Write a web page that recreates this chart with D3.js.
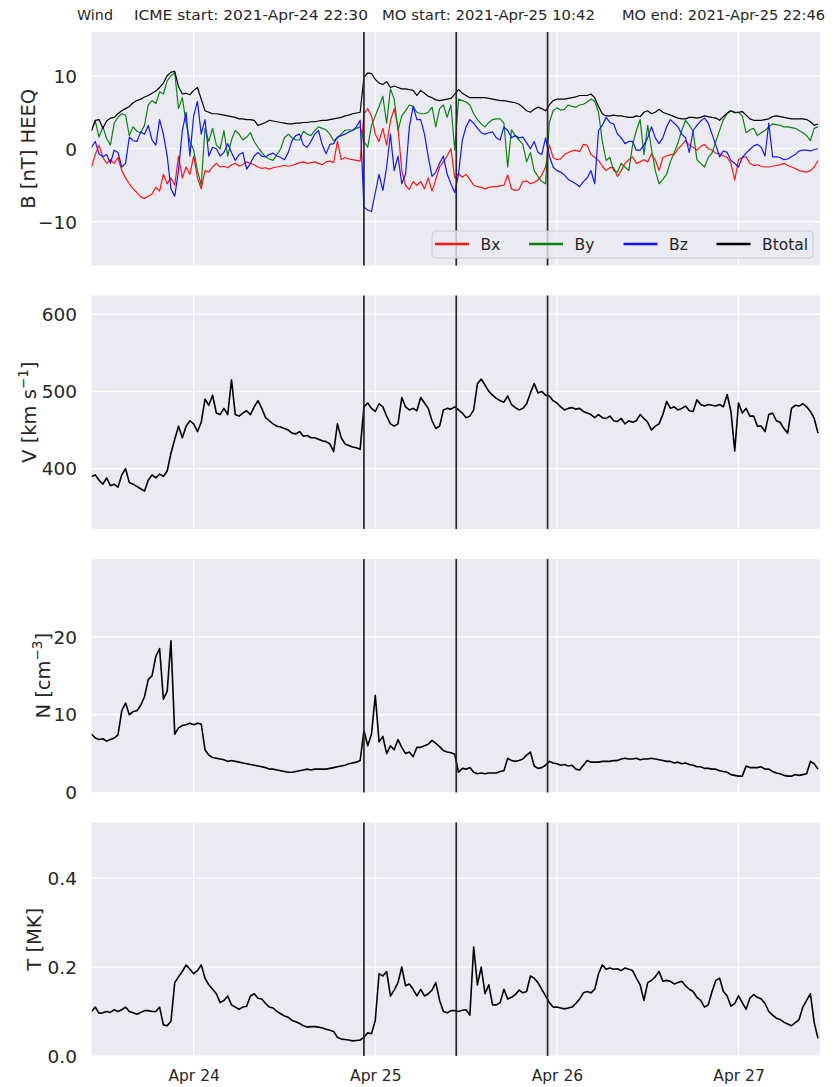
<!DOCTYPE html>
<html><head><meta charset="utf-8">
<script src="https://cdn.jsdelivr.net/npm/d3@7"></script>
<style>
body{margin:0;background:#fff}
svg{display:block}
text{font-family:"DejaVu Sans",sans-serif;fill:#262626}
</style>
</head><body><svg id="c" width="838" height="1087"></svg>
<script>
// ---- data ----
const spacecraft = "Wind";
const startTime = "2021-04-23T10:30:00Z";
const stepMinutes = 30;
const endTime = "2021-04-27T10:46:00Z";
const eventLabels = ["ICME start", "MO start", "MO end"];
const eventTimes = ["2021-04-24T22:30:00Z", "2021-04-25T10:42:00Z", "2021-04-25T22:46:00Z"];
const seriesNames = ["Bx", "By", "Bz", "Btotal"];
const seriesColors = ["#ff1414", "#0f800f", "#1414ff", "#000000"];
const xTickDates = ["2021-04-24", "2021-04-25", "2021-04-26", "2021-04-27"];
const bTicks = [-10, 0, 10];
const vTicks = [400, 500, 600];
const nTicks = [0, 10, 20];
const tTicks = [0.0, 0.2, 0.4];

const Bx = [-2.5,-0.8,0.5,-1.2,-2.0,-1.5,-2.0,-1.2,-3.0,-4.0,
-4.8,-5.5,-6.0,-6.6,-6.8,-6.5,-6.2,-5.3,-5.8,-3.5,
-4.8,-4.0,-5.0,-1.0,-4.0,-2.5,-3.5,-1.0,-4.0,-5.5,
-3.0,-3.2,-2.5,-2.0,-2.5,-2.4,-2.6,-2.2,-2.0,-2.4,
-2.2,-1.8,-2.0,-2.2,-2.5,-2.7,-2.6,-2.8,-2.6,-2.5,
-2.4,-2.3,-2.4,-2.3,-2.1,-1.9,-1.8,-2.0,-1.9,-1.8,
-2.0,-2.2,-1.8,-1.7,-1.9,1.0,-1.5,-1.2,-1.4,-1.5,
-1.6,-1.7,4.8,5.5,4.5,2.0,1.0,2.8,0.5,3.8,
5.5,3.0,-3.0,-5.0,-5.6,-4.5,-5.0,-4.5,-5.5,-4.0,
-5.8,-4.2,-2.5,-1.8,-1.0,0.0,-4.0,-3.4,-3.9,-3.5,
-4.2,-5.0,-5.2,-5.3,-5.5,-5.3,-5.2,-5.2,-5.1,-5.0,
-3.6,-5.5,-5.7,-5.6,-4.5,-4.4,-4.8,-4.6,-4.3,-3.6,
-2.5,0.5,-1.2,-1.5,-1.4,-0.8,-0.5,-0.3,-0.2,-0.4,
0.6,0.5,-0.8,-1.2,-1.6,-2.4,-3.0,-2.6,-2.6,-3.8,
-3.0,-2.0,-1.5,-1.1,-2.0,-1.8,-1.5,-1.8,-0.7,-1.5,
-3.0,-1.2,-1.0,-0.8,-0.8,0.0,0.5,1.1,0.5,0.2,
-0.2,0.3,0.6,0.0,-0.2,-0.6,-0.7,-1.0,-1.2,-2.0,
-4.3,-1.5,-1.2,-1.1,-2.0,-2.3,-2.2,-2.4,-2.5,-2.5,
-2.4,-2.3,-2.2,-2.0,-2.3,-2.5,-2.7,-3.0,-3.1,-3.2,
-3.0,-2.5,-1.6];

const By = [2.5,3.8,1.6,3.0,1.4,0.5,3.5,4.3,4.8,4.6,
1.8,3.0,2.4,2.2,3.2,6.0,6.6,6.2,7.8,7.5,
9.3,10.0,10.4,5.5,7.0,3.5,1.0,-0.2,-3.0,-5.0,
2.8,1.0,2.8,0.5,0.0,2.5,-1.0,1.2,2.5,2.0,
1.2,1.6,2.2,1.0,0.2,-0.5,-1.1,-1.4,-1.6,-0.8,
0.0,1.5,2.0,1.5,1.2,1.2,2.4,2.0,1.8,2.5,
3.0,2.8,2.6,2.0,1.1,1.5,2.0,2.5,2.6,2.5,
2.8,3.0,1.0,0.2,3.2,4.5,5.8,7.2,3.5,8.2,
6.8,2.5,4.5,5.2,6.0,5.8,5.0,4.8,4.8,5.0,
5.7,3.0,5.5,6.0,4.3,6.0,-0.2,6.8,6.6,6.4,
6.0,4.8,4.0,3.4,3.0,3.6,4.0,4.1,4.1,3.5,
-2.5,2.6,1.8,1.2,0.6,-1.8,-0.5,-3.0,-3.8,-4.5,
-4.8,3.6,5.2,5.6,5.3,5.4,6.0,5.8,5.7,6.0,
6.1,6.4,6.8,6.5,5.0,1.0,-1.6,-1.2,-3.0,-3.2,
-2.0,-2.5,-3.0,0.5,2.5,4.0,-0.8,3.2,0.0,-3.0,
-4.8,-4.2,-3.5,-1.8,-0.5,0.8,2.5,3.9,3.2,2.4,
-1.5,-2.0,-2.5,-1.2,-0.6,1.0,2.5,4.0,4.8,5.2,
4.9,5.0,4.5,2.2,2.6,2.8,1.8,2.2,2.5,3.0,
3.4,3.3,3.2,3.0,3.0,2.9,2.8,2.5,2.2,1.8,
1.1,2.8,3.0];

const Bz = [0.2,1.0,-0.7,-1.1,-0.8,-2.0,-0.2,-0.5,-2.5,-2.0,
1.6,1.1,1.0,2.3,2.0,3.2,1.2,0.5,4.0,2.0,
-1.0,-5.5,-6.5,-3.0,2.5,5.0,-1.0,4.5,6.5,2.0,
4.0,-1.0,0.2,0.0,-1.0,-0.5,0.7,-0.5,-1.6,-0.8,
-0.5,-2.8,-2.0,-1.0,-0.5,-1.0,-1.1,-0.8,-0.6,-1.0,
-1.2,-1.5,-0.5,1.1,1.8,2.0,0.5,0.2,1.0,2.0,
2.5,0.5,-0.7,0.6,0.7,1.6,1.8,2.0,2.3,2.5,
3.0,3.9,-8.0,-8.4,-8.6,-6.0,-3.5,-5.7,-2.5,2.0,
-3.0,-1.0,-4.8,-3.5,3.0,5.8,4.0,4.0,2.0,-1.1,
-3.8,-3.2,-2.0,-1.0,-3.5,-4.8,-6.0,-3.5,1.2,3.0,
4.0,3.5,2.8,2.2,2.0,2.2,2.3,1.5,1.2,3.0,
2.5,1.5,1.8,1.5,1.6,0.8,0.0,1.0,-0.5,-0.8,
1.5,-1.0,-2.5,-3.0,-3.2,-3.6,-4.2,-4.5,-4.8,-5.2,
-4.5,-4.0,-3.0,-4.8,2.5,3.2,4.3,3.6,3.4,2.0,
1.5,0.7,1.0,1.0,-0.2,-0.2,0.5,1.5,3.0,1.5,
0.7,1.5,3.0,4.0,3.5,3.0,2.0,1.5,-0.5,2.5,
3.2,3.8,4.2,3.5,2.0,0.5,-1.1,-0.3,-0.5,-1.6,
-2.0,-2.5,-1.2,-0.6,-0.1,0.4,0.6,0.2,-1.0,3.5,
-1.1,-1.1,-1.2,-1.5,-1.4,-1.1,-0.8,-0.3,-0.2,-0.2,
-0.3,-0.1,0.0];

const Bt = [2.5,3.9,4.0,2.8,3.8,4.2,4.3,4.8,5.2,5.5,
5.8,6.3,6.6,6.8,7.1,7.3,7.6,7.9,8.4,9.0,
10.0,10.5,10.6,8.5,7.5,7.6,7.4,8.0,8.4,6.8,
5.2,5.0,4.8,4.8,4.7,4.6,4.5,4.4,4.3,4.1,
4.1,4.0,4.0,3.9,3.2,3.4,3.6,3.9,3.8,3.7,
3.6,3.5,3.4,3.4,3.5,3.5,3.6,3.6,3.7,3.7,
3.8,3.9,3.9,4.0,4.1,4.2,4.3,4.5,4.6,4.8,
4.9,5.0,9.8,10.4,10.3,9.5,9.0,8.8,9.2,8.4,
8.6,8.4,8.2,8.2,8.1,8.0,7.3,8.0,7.6,7.2,
7.0,6.7,6.6,6.7,6.8,6.9,7.5,8.1,7.6,7.3,
7.0,7.0,7.0,7.0,7.0,6.9,6.8,6.7,6.6,6.6,
6.5,6.4,6.3,6.1,5.7,5.2,5.0,5.4,5.7,5.5,
5.2,6.0,6.6,6.8,6.8,6.8,6.9,7.0,7.1,7.3,
7.3,7.3,7.5,7.0,5.8,4.8,4.5,4.5,4.6,4.5,
4.5,4.4,4.3,4.3,4.5,4.4,5.0,5.2,4.8,5.0,
5.4,5.0,4.8,4.6,4.4,4.2,4.1,4.1,4.3,4.3,
4.2,4.3,4.5,4.4,4.3,4.2,3.9,4.4,4.9,5.2,
5.0,5.0,5.1,4.6,4.1,3.9,3.9,3.9,4.0,4.1,
4.4,4.5,4.4,4.3,4.2,4.1,4.1,4.1,4.1,4.0,
3.7,3.2,3.4];

const V = [390,392,385,380,388,378,380,376,392,400,
382,380,377,374,371,385,392,388,393,390,
397,420,438,455,440,455,462,458,448,460,
490,482,495,472,470,478,470,515,470,468,
472,475,470,480,488,478,466,462,458,455,
454,452,450,446,445,448,442,443,440,440,
438,436,435,432,422,458,440,432,430,428,
427,425,480,485,478,474,484,480,468,458,
455,458,492,480,476,478,475,492,485,478,
462,452,455,476,478,477,480,476,472,466,
468,476,510,516,508,500,495,491,488,486,
494,483,479,476,478,484,498,510,498,500,
495,494,488,485,480,476,478,479,477,478,
474,472,470,466,470,466,465,468,462,461,
465,458,462,460,462,470,465,460,450,455,
458,470,487,478,480,476,478,481,475,474,
489,483,481,483,482,481,483,480,496,474,
423,485,472,478,468,468,455,455,448,470,
472,462,460,452,446,478,482,481,484,480,
474,465,446];

const N = [7.5,7.0,6.8,6.9,6.6,6.8,7.0,7.4,10.5,11.5,
10.0,10.4,10.5,11.2,12.3,14.5,15.0,17.5,18.5,12.0,
13.0,19.5,7.5,8.3,8.6,8.7,8.9,8.7,8.9,8.8,
5.5,4.8,4.5,4.4,4.3,4.2,4.0,4.1,4.0,3.9,
3.8,3.7,3.6,3.5,3.4,3.3,3.2,3.0,3.0,2.9,
2.8,2.7,2.6,2.6,2.7,2.8,2.9,3.0,2.9,3.0,
3.0,3.0,3.0,3.1,3.2,3.3,3.4,3.5,3.7,3.8,
3.9,4.1,8.0,6.0,7.5,12.5,6.5,7.2,5.0,6.0,
5.5,6.8,5.8,5.0,5.2,4.6,5.8,5.8,6.0,6.2,
6.7,6.3,5.9,5.4,5.2,5.1,4.9,2.6,3.1,3.0,
3.2,2.6,2.4,2.5,2.4,2.5,2.5,2.5,2.7,2.8,
4.4,4.1,4.0,4.1,4.3,4.8,5.2,3.4,3.1,3.2,
3.5,4.0,3.8,3.7,3.5,3.6,3.4,3.5,3.0,2.9,
3.5,4.1,3.9,3.9,3.9,4.0,4.0,4.0,4.1,4.1,
4.3,4.4,4.3,4.3,4.4,4.2,4.3,4.3,4.4,4.3,
4.2,4.1,4.0,4.0,3.8,3.9,3.7,3.8,3.6,3.5,
3.3,3.3,3.1,3.1,3.0,3.0,2.8,2.7,2.6,2.3,
2.2,2.1,2.1,3.4,3.2,3.2,3.2,3.3,3.0,3.0,
2.7,2.5,2.4,2.2,2.1,2.1,2.3,2.2,2.3,2.4,
4.0,3.7,3.0];

const T = [0.100,0.110,0.096,0.097,0.100,0.098,0.104,0.100,0.104,0.110,
0.100,0.097,0.094,0.098,0.102,0.102,0.100,0.100,0.110,0.070,
0.068,0.078,0.165,0.178,0.190,0.205,0.195,0.185,0.192,0.205,
0.175,0.160,0.150,0.140,0.120,0.125,0.135,0.115,0.110,0.105,
0.110,0.112,0.135,0.140,0.130,0.128,0.118,0.110,0.108,0.100,
0.095,0.090,0.087,0.080,0.077,0.073,0.068,0.065,0.066,0.066,
0.065,0.063,0.060,0.058,0.055,0.042,0.038,0.037,0.036,0.034,
0.035,0.036,0.042,0.052,0.050,0.080,0.185,0.180,0.190,0.135,
0.148,0.165,0.200,0.158,0.162,0.150,0.135,0.150,0.135,0.140,
0.148,0.165,0.125,0.100,0.097,0.102,0.102,0.100,0.103,0.104,
0.092,0.245,0.160,0.200,0.140,0.160,0.115,0.115,0.120,0.150,
0.128,0.132,0.138,0.148,0.142,0.145,0.180,0.175,0.165,0.150,
0.135,0.120,0.110,0.110,0.108,0.106,0.108,0.110,0.118,0.128,
0.142,0.145,0.142,0.150,0.185,0.205,0.195,0.198,0.195,0.196,
0.192,0.198,0.195,0.192,0.175,0.160,0.125,0.165,0.170,0.178,
0.190,0.168,0.170,0.168,0.162,0.165,0.168,0.158,0.150,0.145,
0.132,0.125,0.110,0.115,0.145,0.170,0.175,0.145,0.135,0.112,
0.118,0.135,0.120,0.105,0.130,0.138,0.132,0.128,0.118,0.100,
0.092,0.085,0.082,0.076,0.072,0.068,0.075,0.082,0.110,0.125,
0.140,0.075,0.040];

// ---- layout ----
const svg = d3.select("#c");
const left = 91.5, right = 820;
const panelTop = [32, 295.5, 559, 822.5];
const panelH = 233.5;
const t0 = new Date(startTime);
const times = Bx.map((_, i) => new Date(t0.getTime() + i * stepMinutes * 60000));
const x = d3.scaleUtc().domain([t0, new Date(endTime)]).range([left, right]);

const panels = [
  {domain: [-16, 16], ticks: bTicks, fmt: d3.format("d"), series: [Bx, By, Bz, Bt], colors: seriesColors, sw: 1.2, label: [["B [nT] HEEQ"]], labelX: 27},
  {domain: [322, 624], ticks: vTicks, fmt: d3.format("d"), series: [V], colors: ["#000"], sw: 1.6, label: [["V [km s"], ["\u22121", "sup"], ["]"]], labelX: 28},
  {domain: [0, 30], ticks: nTicks, fmt: d3.format("d"), series: [N], colors: ["#000"], sw: 1.6, label: [["N [cm"], ["\u22123", "sup"], ["]"]], labelX: 42},
  {domain: [0, 0.525], ticks: tTicks, fmt: d3.format(".1f"), series: [T], colors: ["#000"], sw: 1.6, label: [["T [MK]"]], labelX: 33}
];

svg.append("defs").selectAll("clipPath").data(panels).join("clipPath")
  .attr("id", (d, i) => "clip" + i)
  .append("rect").attr("x", left).attr("y", (d, i) => panelTop[i]).attr("width", right - left).attr("height", panelH);

panels.forEach((p, k) => {
  const top = panelTop[k], bot = top + panelH;
  const y = d3.scaleLinear().domain(p.domain).range([bot, top]);
  const g = svg.append("g");
  g.append("rect").attr("x", left).attr("y", top).attr("width", right - left).attr("height", panelH).attr("fill", "#eaeaf2");
  // grid
  g.selectAll(".hg").data(p.ticks).join("line")
    .attr("x1", left).attr("x2", right).attr("y1", d => y(d)).attr("y2", d => y(d))
    .attr("stroke", "#fff").attr("stroke-width", 1.2);
  g.selectAll(".vg").data(xTickDates).join("line")
    .attr("x1", d => x(new Date(d + "T00:00:00Z"))).attr("x2", d => x(new Date(d + "T00:00:00Z")))
    .attr("y1", top).attr("y2", bot).attr("stroke", "#fff").attr("stroke-width", 1.2);
  // y axis
  const ya = g.append("g").attr("transform", `translate(${left},0)`)
    .call(d3.axisLeft(y).tickValues(p.ticks).tickFormat(p.fmt).tickSize(0).tickPadding(14.5));
  ya.select(".domain").remove();
  ya.selectAll("text").attr("font-size", 18.5).attr("font-family", "DejaVu Sans").attr("fill", "#262626").attr("dy", "0.34em");
  // series
  const line = d3.line().x((d, i) => x(times[i])).y(d => y(d));
  const lg = g.append("g").attr("clip-path", `url(#clip${k})`);
  p.series.forEach((s, j) => {
    lg.append("path").attr("d", line(s)).attr("fill", "none")
      .attr("stroke", p.colors[j]).attr("stroke-width", p.sw).attr("stroke-linejoin", "round");
  });
  // event lines
  g.selectAll(".ev").data(eventTimes).join("line")
    .attr("x1", d => x(new Date(d))).attr("x2", d => x(new Date(d)))
    .attr("y1", top).attr("y2", bot).attr("stroke", "#262626").attr("stroke-width", 1.7);
  // y label
  const lt = g.append("text").attr("transform", `translate(${p.labelX},${top + panelH / 2}) rotate(-90)`)
    .attr("text-anchor", "middle").attr("font-size", 19.5);
  p.label.forEach(([s, sup]) => {
    if (sup) lt.append("tspan").attr("dy", -8).attr("font-size", 13.5).text(s);
    else lt.append("tspan").attr("dy", lt.selectAll("tspan").size() ? 8 : 0).text(s);
  });

  if (k === 0) {
    // legend
    const lx = 432, ly = 231, lw = 381, lh = 27;
    const lgd = g.append("g");
    lgd.append("rect").attr("x", lx).attr("y", ly).attr("width", lw).attr("height", lh).attr("rx", 4)
      .attr("fill", "#eaeaf2").attr("fill-opacity", 0.8).attr("stroke", "#cccccc").attr("stroke-width", 1);
    const itemX = [435, 529, 623.5, 716.5];
    seriesNames.forEach((nm, j) => {
      lgd.append("line").attr("x1", itemX[j]).attr("x2", itemX[j] + 34).attr("y1", ly + 13).attr("y2", ly + 13)
        .attr("stroke", seriesColors[j]).attr("stroke-width", 2.6);
      lgd.append("text").attr("x", itemX[j] + 45.5).attr("y", ly + 19).attr("font-size", 15.5).text(nm);
    });
  }
  if (k === 3) {
    const xa = g.append("g").attr("transform", `translate(0,${bot})`)
      .call(d3.axisBottom(x).tickValues(xTickDates.map(d => new Date(d + "T00:00:00Z")))
        .tickFormat(d3.utcFormat("%b %d")).tickSize(0).tickPadding(13.5));
    xa.select(".domain").remove();
    xa.selectAll("text").attr("font-size", 15.5).attr("font-family", "DejaVu Sans").attr("fill", "#262626");
  }
});

// title
const tf = d3.utcFormat("%Y-%b-%d %H:%M");
const titleParts = [spacecraft].concat(eventLabels.map((l, i) => `${l}: ${tf(new Date(eventTimes[i]))}`));
const titleX = [77, 134, 382, 622];
const titleW = [36, 234, 213, 203];
svg.selectAll(".tt").data(titleParts).join("text")
  .attr("x", (d, i) => titleX[i]).attr("y", 20).attr("font-size", 14.5)
  .attr("textLength", (d, i) => titleW[i]).attr("lengthAdjust", "spacingAndGlyphs")
  .attr("fill", "#262626").text(d => d);
</script>
</body></html>
